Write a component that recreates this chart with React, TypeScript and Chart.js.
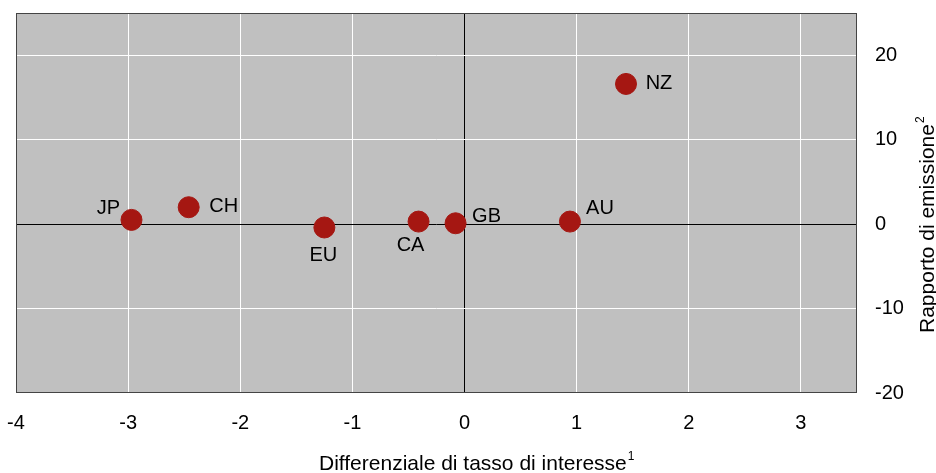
import React, { useEffect, useRef } from "react";
import { Chart, registerables } from "chart.js";

Chart.register(...registerables);

const countries = ["JP", "CH", "EU", "CA", "GB", "AU", "NZ"];
const rateDifferential = [-2.97, -2.46, -1.25, -0.41, -0.08, 0.94, 1.44];
const issuanceRatio = [0.5, 2.0, -0.4, 0.3, 0.1, 0.3, 16.6];

const xTitle = "Differenziale di tasso di interesse";
const xTitleNote = "1";
const yTitle = "Rapporto di emissione";
const yTitleNote = "2";

// label text-centre offsets from the point centre (px)
const labelOffsets: [number, number][] = [
  [-23, -11],
  [35, -1],
  [-1, 28],
  [-8, 24],
  [31, -7],
  [30, -13],
  [33, 0],
];

const FONT = "'Liberation Sans', Arial, Helvetica, sans-serif";

function drawTitle(ctx: CanvasRenderingContext2D, text: string, note: string) {
  ctx.font = `21px ${FONT}`;
  ctx.textAlign = "left";
  ctx.textBaseline = "alphabetic";
  ctx.fillText(text, 0, 0);
  const w = ctx.measureText(text).width;
  ctx.font = `12px ${FONT}`;
  ctx.fillText(note, w + 1, -10);
}

export default function App() {
  const ref = useRef<HTMLCanvasElement | null>(null);

  useEffect(() => {
    if (!ref.current) return;

    const plugin = {
      id: "custom",
      beforeDraw(chart: any) {
        const { ctx, chartArea: a } = chart;
        ctx.save();
        ctx.fillStyle = "#c0c0c0";
        ctx.fillRect(a.left, a.top, a.right - a.left, a.bottom - a.top);
        ctx.restore();
      },
      afterDraw(chart: any) {
        const { ctx, chartArea: a } = chart;
        ctx.save();
        ctx.strokeStyle = "#444";
        ctx.lineWidth = 1;
        ctx.strokeRect(a.left + 0.5, a.top + 0.5, a.right - a.left - 1, a.bottom - a.top - 1);

        const meta = chart.getDatasetMeta(0);
        ctx.fillStyle = "#000";
        ctx.font = `20px ${FONT}`;
        ctx.textAlign = "center";
        ctx.textBaseline = "middle";
        meta.data.forEach((el: any, i: number) => {
          const [dx, dy] = labelOffsets[i];
          ctx.fillText(countries[i], el.x + dx, el.y + dy);
        });

        ctx.save();
        ctx.translate(319, 470);
        drawTitle(ctx, xTitle, xTitleNote);
        ctx.restore();

        ctx.save();
        ctx.translate(934, 333);
        ctx.rotate(-Math.PI / 2);
        drawTitle(ctx, yTitle, yTitleNote);
        ctx.restore();
        ctx.restore();
      },
    };

    const gridColor = (c: any) => (c.tick && c.tick.value === 0 ? "#000" : "#fff");
    const zeroPad = (s: any) => {
      s.paddingLeft = 0;
      s.paddingRight = 0;
      s.paddingTop = 0;
      s.paddingBottom = 0;
    };

    const chart = new Chart(ref.current, {
      type: "scatter",
      data: {
        datasets: [
          {
            data: rateDifferential.map((x, i) => ({ x, y: issuanceRatio[i] })),
            backgroundColor: "#a51712",
            borderColor: "#a51712",
            borderWidth: 1,
            pointRadius: 10.5,
            pointHoverRadius: 10.5,
          },
        ],
      },
      options: {
        animation: false,
        responsive: true,
        maintainAspectRatio: false,
        layout: { padding: { left: 16, top: 13, right: 0, bottom: 0 } },
        plugins: { legend: { display: false }, tooltip: { enabled: false } },
        scales: {
          x: {
            type: "linear",
            min: -4,
            max: 3.5,
            border: { display: false },
            grid: { color: gridColor, lineWidth: 1, drawTicks: false },
            ticks: {
              stepSize: 1,
              color: "#000",
              padding: 18,
              font: { size: 20, family: FONT },
              maxRotation: 0,
            },
            afterBuildTicks: (s: any) => {
              s.ticks = s.ticks.filter((t: any) => Number.isInteger(t.value));
            },
            afterFit: (s: any) => {
              s.height = 80;
              zeroPad(s);
            },
          },
          y: {
            type: "linear",
            position: "right",
            min: -20,
            max: 25,
            border: { display: false },
            grid: { color: gridColor, lineWidth: 1, drawTicks: false },
            ticks: {
              stepSize: 10,
              color: "#000",
              padding: 18,
              font: { size: 20, family: FONT },
            },
            afterBuildTicks: (s: any) => {
              s.ticks = s.ticks.filter((t: any) => t.value <= 20);
            },
            afterFit: (s: any) => {
              s.width = 79;
              zeroPad(s);
            },
          },
        },
      },
      plugins: [plugin],
    });

    return () => chart.destroy();
  }, []);

  return (
    <div style={{ position: "absolute", left: 0, top: 0, width: 936, height: 473 }}>
      <canvas ref={ref} />
    </div>
  );
}
